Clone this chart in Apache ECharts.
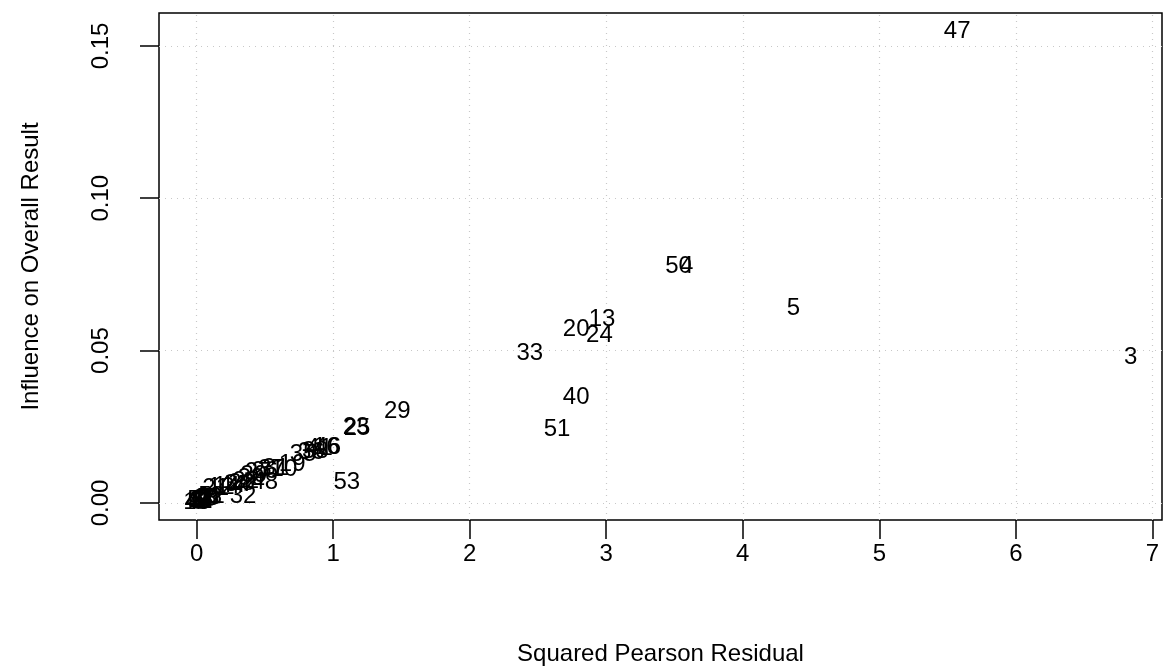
<!DOCTYPE html>
<html>
<head>
<meta charset="utf-8">
<script src="https://cdn.jsdelivr.net/npm/echarts@6/dist/echarts.min.js"></script>
<style>
html,body{margin:0;padding:0;background:#fff;}
#chart{width:1164px;height:672px;}
</style>
</head>
<body>
<div id="chart"></div>
<script>
// Observation labels and their values
const labels = [
  "47","50","4","5","3","13","20","24","33","40","51","29","25","23","53",
  "46","16","41","38","36","35","19","10","31","37","26","48","27","39","30",
  "22","28","34","44","14","12","21","32",
  "1","2","6","7","8","9","11","15","17","18","42","43","45","49","52","54"
];
const sqPearsonResid = [
  5.57,3.53,3.59,4.37,6.84,2.97,2.78,2.95,2.44,2.78,2.64,1.47,1.175,1.168,1.10,
  0.96,0.95,0.90,0.87,0.84,0.78,0.70,0.64,0.58,0.55,0.50,0.50,0.45,0.42,0.40,
  0.36,0.33,0.30,0.26,0.22,0.18,0.14,0.34,
  0.02,0.05,0.01,0.08,0.03,0.06,0.10,0.00,0.04,0.07,0.02,0.09,0.05,0.01,0.11,0.03
];
const influence = [
  0.1549,0.0778,0.0778,0.0637,0.0479,0.0601,0.0571,0.0551,0.0492,0.0348,0.0240,0.0302,0.0246,0.0247,0.0066,
  0.0184,0.0182,0.0180,0.0170,0.0166,0.0160,0.0128,0.0110,0.0115,0.0110,0.0105,0.0066,0.0100,0.0090,0.0082,
  0.0070,0.0065,0.0062,0.0058,0.0055,0.0050,0.0048,0.0020,
  0.0004,0.0010,0.0002,0.0015,0.0006,0.0012,0.0020,0.0001,0.0008,0.0014,0.0005,0.0018,0.0011,0.0003,0.0022,0.0007
];
const xTicks = [0,1,2,3,4,5,6,7];
const yTicks = [0,0.05,0.10,0.15];

const FONT = '"Liberation Sans", Arial, Helvetica, sans-serif';
const FS = 24;

const data = labels.map((l,i)=>[sqPearsonResid[i], influence[i], l]);

const gridLines = [];
xTicks.forEach(v=>gridLines.push({xAxis:v}));
yTicks.forEach(v=>gridLines.push({yAxis:v}));

const chart = echarts.init(document.getElementById('chart'), null, {renderer:'canvas'});
chart.setOption({
  animation:false,
  backgroundColor:'#fff',
  grid:{left:159, right:2, top:13, bottom:152, show:true, borderColor:'#000', borderWidth:1.5, backgroundColor:'transparent'},
  xAxis:{
    type:'value', min:-0.275, max:7.07,
    axisLine:{show:false, onZero:false},
    splitLine:{show:false},
    axisTick:{show:true, customValues:xTicks, length:19, inside:false, lineStyle:{color:'#000', width:1.5}},
    axisLabel:{customValues:xTicks, margin:22, color:'#000', fontSize:FS, fontFamily:FONT, showMinLabel:true, showMaxLabel:true},
    name:'Squared Pearson Residual', nameLocation:'middle', nameGap:122,
    nameTextStyle:{color:'#000', fontSize:FS, fontFamily:FONT}
  },
  yAxis:{
    type:'value', min:-0.0056, max:0.1608,
    axisLine:{show:false, onZero:false},
    splitLine:{show:false},
    axisTick:{show:true, customValues:yTicks, length:19, inside:false, lineStyle:{color:'#000', width:1.5}},
    axisLabel:{customValues:yTicks, rotate:90, margin:46, color:'#000', fontSize:FS, fontFamily:FONT,
      formatter:v=>v.toFixed(2), showMinLabel:true, showMaxLabel:true},
    name:'Influence on Overall Result', nameLocation:'middle', nameGap:116,
    nameTextStyle:{color:'#000', fontSize:FS, fontFamily:FONT}
  },
  series:[{
    type:'scatter',
    data:data,
    symbolSize:1,
    itemStyle:{color:'rgba(0,0,0,0)'},
    label:{show:true, position:'inside', formatter:p=>p.value[2], color:'#000', opacity:1, fontSize:FS, fontFamily:FONT},
    labelLayout:{hideOverlap:false},
    emphasis:{disabled:true},
    markLine:{
      silent:true, symbol:['none','none'], label:{show:false},
      lineStyle:{color:'#c8c8c8', type:[1,5], width:1.2},
      data:gridLines,
      z:0
    }
  }]
});
</script>
</body>
</html>
